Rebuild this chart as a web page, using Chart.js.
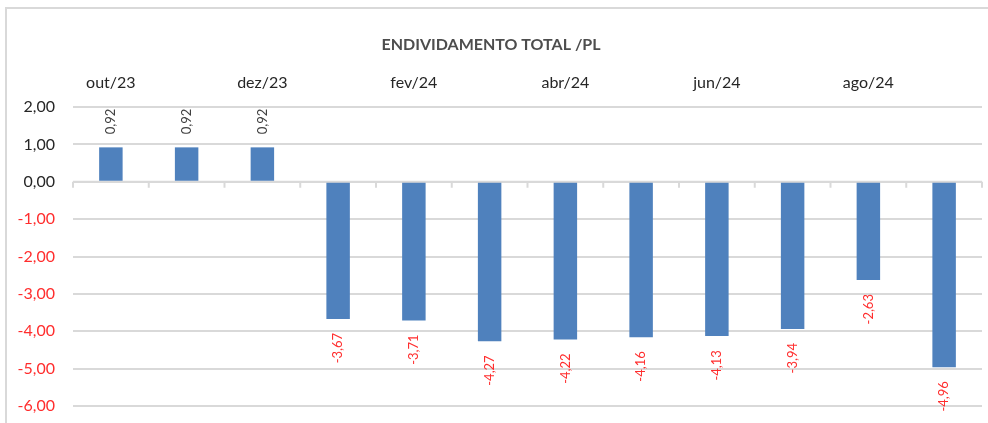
<!DOCTYPE html>
<html lang="pt">
<head>
<meta charset="UTF-8">
<title>Endividamento Total / PL</title>
<script src="https://cdn.jsdelivr.net/npm/chart.js"></script>
<style>
  body { margin: 0; background: #fff; }
  #wrap { position: relative; width: 988px; height: 423px; overflow: hidden; }
  #frame { position: absolute; left: 5px; top: 7px; width: 1000px; height: 430px;
           border: 2px solid #d9d9d9; pointer-events: none; }
  canvas { position: absolute; left: 0; top: 0; }
</style>
</head>
<body>
<div id="wrap">
  <canvas id="chart" width="988" height="423"></canvas>
  <div id="frame"></div>
</div>
<script>
  // data
  const months = ['out/23', 'nov/23', 'dez/23', 'jan/24', 'fev/24', 'mar/24',
                  'abr/24', 'mai/24', 'jun/24', 'jul/24', 'ago/24', 'set/24'];
  const ratio = [0.92, 0.92, 0.92, -3.67, -3.71, -4.27, -4.22, -4.16, -4.13, -3.94, -2.63, -4.96];

  const FONT = 'Lato, "Open Sans", sans-serif';
  const RED = '#ff2d2d';
  const fmt = v => v.toFixed(2).replace('.', ',');

  // zero axis line with small tick marks between categories
  const zeroAxis = {
    id: 'zeroAxis',
    beforeDatasetsDraw(chart) {
      const { ctx, chartArea, scales } = chart;
      const y0 = scales.y.getPixelForValue(0);
      const step = chartArea.width / months.length;
      ctx.save();
      ctx.strokeStyle = '#d9d9d9';
      ctx.lineWidth = 2;
      ctx.beginPath();
      ctx.moveTo(chartArea.left, y0);
      ctx.lineTo(chartArea.right, y0);
      for (let i = 0; i <= months.length; i++) {
        const x = scales.x.getPixelForValue(0) - step / 2 + i * step;
        ctx.moveTo(x, y0);
        ctx.lineTo(x, y0 + 6);
      }
      ctx.stroke();
      ctx.restore();
    }
  };

  // vertical value labels, above positive bars and below negative ones
  const barLabels = {
    id: 'barLabels',
    afterDatasetsDraw(chart) {
      const ctx = chart.ctx;
      const meta = chart.getDatasetMeta(0);
      ctx.save();
      ctx.font = '13px ' + FONT;
      ctx.textBaseline = 'middle';
      meta.data.forEach((bar, i) => {
        const v = ratio[i];
        ctx.save();
        if (v >= 0) {
          ctx.translate(bar.x, bar.y - 13);
          ctx.rotate(-Math.PI / 2);
          ctx.textAlign = 'left';
          ctx.fillStyle = '#404040';
        } else {
          ctx.translate(bar.x, bar.y + 14);
          ctx.rotate(-Math.PI / 2);
          ctx.textAlign = 'right';
          ctx.fillStyle = RED;
        }
        ctx.fillText(fmt(v), 0, 0);
        ctx.restore();
      });
      ctx.restore();
    }
  };

  new Chart(document.getElementById('chart'), {
    type: 'bar',
    data: {
      labels: months,
      datasets: [{
        data: ratio,
        backgroundColor: '#4f81bd',
        borderWidth: 0,
        barPercentage: 0.31,
        categoryPercentage: 1
      }]
    },
    options: {
      responsive: false,
      animation: false,
      layout: { padding: { left: 0, right: 6, top: 0, bottom: 17 } },
      plugins: {
        legend: { display: false },
        tooltip: { enabled: false },
        title: {
          display: true,
          text: 'ENDIVIDAMENTO TOTAL /PL',
          color: '#4d4d4d',
          font: { family: FONT, size: 16, weight: 'bold' },
          padding: { top: 35, bottom: 11.6 }
        }
      },
      scales: {
        x: {
          position: 'top',
          grid: { display: false },
          border: { display: false },
          ticks: {
            autoSkip: false,
            maxRotation: 0,
            padding: 7,
            color: '#262626',
            font: { family: FONT, size: 16 },
            callback: (v, i) => (i % 2 === 0 ? months[i] : '')
          }
        },
        y: {
          min: -6,
          max: 2,
          // fixed width; drop the label overflow padding so layout padding rules
          afterFit: s => { s.width = 73; s.paddingTop = 0; s.paddingBottom = 0; },
          grid: { color: '#d9d9d9', lineWidth: 2, drawTicks: false },
          border: { display: false },
          ticks: {
            stepSize: 1,
            padding: 18,
            font: { family: FONT, size: 16 },
            color: c => (c.tick.value < 0 ? RED : '#262626'),
            callback: v => fmt(v)
          }
        }
      }
    },
    plugins: [zeroAxis, barLabels]
  });
</script>
</body>
</html>
